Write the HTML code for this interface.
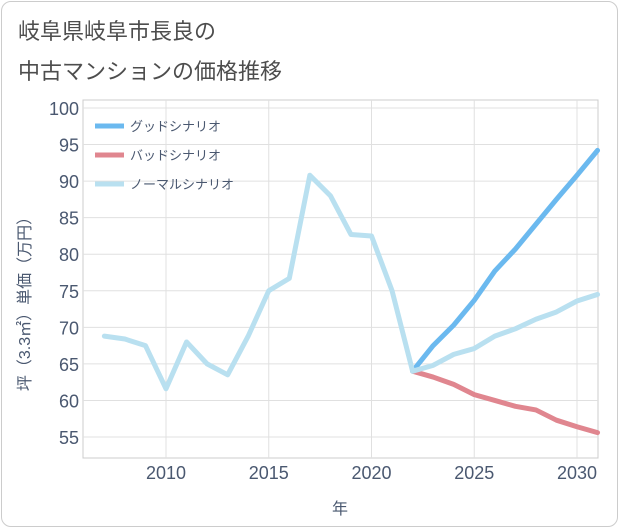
<!DOCTYPE html>
<html><head><meta charset="utf-8">
<style>
body{margin:0;background:#fff;}
#wrap{position:relative;width:621px;height:530px;font-family:"Liberation Sans","Noto Sans CJK JP",sans-serif;}
#frame{position:absolute;left:1px;top:1px;width:617px;height:526px;border:1px solid #ccc;border-radius:10px;box-sizing:border-box;}
.title{position:absolute;left:18px;font-size:22px;color:#4d4d4d;}
</style></head><body>
<div id="wrap">
<div id="frame"></div>
<div class="title" style="top:14px">岐阜県岐阜市長良の</div>
<div class="title" style="top:54px">中古マンションの価格推移</div>
<svg id="chart" width="621" height="530" style="position:absolute;left:0;top:0"></svg>
</div>
<script>
const years=[2007,2008,2009,2010,2011,2012,2013,2014,2015,2016,2017,2018,2019,2020,2021,2022,2023,2024,2025,2026,2027,2028,2029,2030,2031];
const normal=[68.8,68.4,67.5,61.6,68.0,65.0,63.5,68.8,75.0,76.7,90.8,88.0,82.7,82.5,75.0,64.0,64.8,66.3,67.1,68.8,69.8,71.1,72.1,73.6,74.5];
const goodYears=[2022,2023,2024,2025,2026,2027,2028,2029,2030,2031];
const good=[64.0,67.5,70.3,73.7,77.7,80.7,84.1,87.5,90.8,94.2];
const bad=[64.0,63.2,62.2,60.8,60.0,59.2,58.7,57.3,56.4,55.6];
const yTicks=[55,60,65,70,75,80,85,90,95,100];
const xTicks=[2010,2015,2020,2025,2030];
const legendLabels=["グッドシナリオ","バッドシナリオ","ノーマルシナリオ"];
const legendColors=["#6bb9ef","#e0868f","#b9e0f0"];

const svg=document.getElementById('chart');
const NS="http://www.w3.org/2000/svg";
const L=83,R=598,T=100,B=458;
const x=v=>166+(v-2010)*(577-166)/20;
const y=v=>437-(v-55)*(437-108)/45;
function mk(tag,attrs,name){const e=document.createElementNS(NS,tag);for(const k in attrs)e.setAttribute(k,attrs[k]);


svg.appendChild(e);return e;}
mk('rect',{x:L,y:T,width:R-L,height:B-T,fill:'#fff',stroke:'#ccc'},'plot-area');
yTicks.forEach(t=>{mk('line',{x1:L,x2:R,y1:y(t),y2:y(t),stroke:'#e0e0e0'},'y-gridline');
const tx=mk('text',{x:L-4,y:y(t)+7,'text-anchor':'end','font-size':18,fill:'#4a5870'},'y-tick-label');tx.textContent=t;});
xTicks.forEach(t=>{mk('line',{x1:x(t),x2:x(t),y1:T,y2:B,stroke:'#e0e0e0'},'x-gridline');
const tx=mk('text',{x:x(t),y:B+21,'text-anchor':'middle','font-size':18,fill:'#4a5870'},'x-tick-label');tx.textContent=t;});
function line(xs,vs,c,n){mk('polyline',{points:xs.map((v,i)=>x(v)+','+y(vs[i])).join(' '),fill:'none',stroke:c,'stroke-width':5,'stroke-linejoin':'round','stroke-linecap':'round'},n);}
line(goodYears,bad,legendColors[1],'bad-scenario-line');
line(goodYears,good,legendColors[0],'good-scenario-line');
line(years,normal,legendColors[2],'normal-scenario-line');
legendLabels.forEach((l,i)=>{const ly=126+i*29;
mk('line',{x1:95,x2:124,y1:ly,y2:ly,stroke:legendColors[i],'stroke-width':5},'legend-swatch');
const t=mk('text',{x:130,y:ly+5,'font-size':13,fill:'#4a5870'},'legend-label');t.textContent=l;});
const yl=mk('text',{x:0,y:0,transform:'translate(30,300) rotate(-90)','text-anchor':'middle','font-size':16,fill:'#4a5870'},'y-axis-title');yl.textContent='坪（3.3㎡）単価（万円）';
const xl=mk('text',{x:340,y:514,'text-anchor':'middle','font-size':16,fill:'#4a5870'},'x-axis-title');xl.textContent='年';
</script>
</body></html>
